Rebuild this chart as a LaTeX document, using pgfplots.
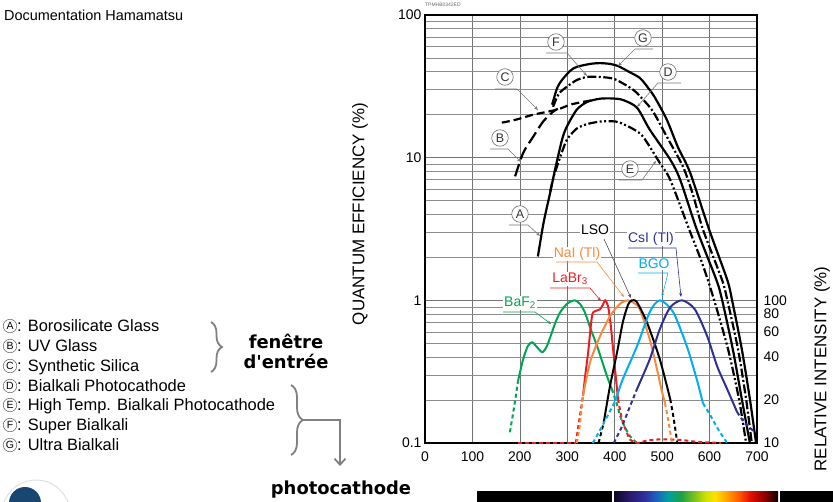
\documentclass[border=0pt]{standalone}
\usepackage{fontspec}
\setmainfont{Liberation Sans}
\newfontfamily\dejavu{DejaVu Sans}
\usepackage{pgfplots}
\pgfplotsset{compat=1.18}
\usetikzlibrary{arrows.meta,decorations.pathreplacing}

\newcommand\fs[1]{\fontsize{#1}{#1}\selectfont}

\definecolor{baf}{RGB}{0,166,81}
\definecolor{labr}{RGB}{237,28,36}
\definecolor{nai}{RGB}{246,139,62}
\definecolor{bgo}{RGB}{0,174,239}
\definecolor{csi}{RGB}{46,49,146}
\definecolor{lead}{RGB}{120,120,120}
\definecolor{brk}{RGB}{128,128,128}
\definecolor{logo}{RGB}{24,70,112}
\definecolor{sa}{RGB}{14,8,34}
\definecolor{sb}{RGB}{42,26,112}
\definecolor{sc}{RGB}{48,48,160}
\definecolor{sd}{RGB}{30,96,190}
\definecolor{se}{RGB}{0,160,160}
\definecolor{sf}{RGB}{30,160,70}
\definecolor{sg}{RGB}{130,195,30}
\definecolor{sh}{RGB}{210,225,0}
\definecolor{si}{RGB}{255,225,0}
\definecolor{sj}{RGB}{255,160,0}
\definecolor{sk}{RGB}{255,80,0}
\definecolor{sl}{RGB}{225,16,0}
\definecolor{sm}{RGB}{160,0,0}
\definecolor{sn}{RGB}{16,0,0}

\pgfplotsset{
  qe/.style={black, line width=2.2bp, smooth, tension=0.45, no marks},
  sc/.style={line width=2bp, smooth, tension=0.45, no marks},
  scd/.style={sc, dash pattern=on 4bp off 3bp},
}

\begin{document}
\begin{tikzpicture}
\path[use as bounding box] (0bp,0bp) rectangle (833bp,-502bp);

\begin{axis}[
  at={(425bp,-443bp)}, anchor=south west,
  scale only axis, width=332bp, height=428bp,
  xmin=0, xmax=700, ymin=0.1, ymax=100, ymode=log,
  xtick={0,100,...,700},
  ytick={0.1,1,10,100}, yticklabels={0.1,1,10,100},
  xticklabel style={font=\fs{14}, yshift=-5bp},
  yticklabel style={font=\fs{14}},
  /pgf/number format/assume math mode=true,
  major tick length=0pt, minor tick length=0pt,
  grid=both,
  major grid style={black!55, line width=0.7bp},
  minor grid style={black!45, line width=0.7bp},
  axis line style={line width=1.8bp},
]
% B UV glass
\addplot[qe, dash pattern=on 13bp off 5bp] coordinates {(190,7.4)(207,10.8)(228,14.0)(249,17.9)(270,21.0)(280,22.0)};
% C synthetic silica
\addplot[qe, dash pattern=on 8bp off 4bp] coordinates {(162,17.6)(190,18.4)(228,20.0)(278,21.7)(306,23.5)(333,24.6)(355,25.3)};
% A / D bialkali
\addplot[qe] coordinates {(238,2.03)(250,3.5)(264,5.7)(274,8.2)(289,13.4)(299,16.5)(320,21.7)(342,24.6)(369,25.9)(395,26.0)(417,25.4)(447,22.4)(474,15.7)(517,9.7)(538,7.0)(573,3.14)(614,1.40)(626,1.02)(649,0.454)(668,0.203)(685,0.1)};
% E high temp bialkali
\addplot[qe, dash pattern=on 9bp off 2.5bp on 2bp off 2.5bp on 2bp off 2.5bp] coordinates {(264,5.8)(272,7.5)(289,11.0)(300,13.5)(320,16.0)(342,17.2)(369,17.9)(395,18.0)(411,17.6)(440,15.8)(460,14.0)(495,9.2)(517,7.0)(557,3.14)(585,1.8)(609,1.02)(639,0.454)(662,0.203)(677,0.1)};
% F super bialkali
\addplot[qe, dash pattern=on 9bp off 2.5bp on 2bp off 2.5bp] coordinates {(270,22.7)(282,28.0)(299,31.4)(320,35.0)(342,36.8)(369,36.8)(400,35.5)(439,29.9)(460,25.5)(481,21.0)(510,14.0)(544,8.65)(565,5.5)(586,3.14)(626,1.40)(637,1.02)(660,0.454)(677,0.203)(689,0.1)};
% G ultra bialkali
\addplot[qe] coordinates {(268,23.5)(279,31.0)(289,35.1)(306,40.6)(320,43.3)(348,45.4)(369,46.0)(390,45.4)(407,43.9)(430,40.0)(453,36.2)(470,31.0)(485,26.3)(510,18.4)(533,11.9)(559,7.85)(599,3.14)(637,1.40)(647,1.02)(668,0.454)(685,0.203)(698,0.1)};

% BaF2
\addplot[scd, baf] coordinates {(179,0.119)(188,0.18)(196,0.271)};
\addplot[sc, baf] coordinates {(196,0.271)(207,0.387)(217,0.48)(226,0.508)(236,0.47)(247,0.433)(256,0.47)(264,0.551)(275,0.70)(285,0.824)(300,0.95)(316,1.0)(327,0.94)(337,0.824)(350,0.62)(363,0.477)(375,0.36)(386,0.28)(394,0.239)};
\addplot[scd, baf] coordinates {(394,0.239)(405,0.185)(415,0.143)(432,0.112)(447,0.1)};
% LaBr3
\addplot[scd, labr, sharp plot] coordinates {(196,0.1)(318,0.1)};
\addplot[scd, labr] coordinates {(318,0.1)(326,0.15)(333,0.213)};
\addplot[sc, labr] coordinates {(333,0.213)(338,0.30)(344,0.433)(352,0.773)(358,0.838)(369,0.865)(375,0.93)(380,1.0)(386,0.908)(391,0.70)(396,0.477)(401,0.32)(407,0.203)};
\addplot[scd, labr] coordinates {(407,0.203)(412,0.165)(417,0.14)(425,0.12)(432,0.106)(447,0.1)(468,0.104)(495,0.106)(540,0.105)(573,0.102)(625,0.1)};
% NaI(Tl)
\addplot[scd, nai] coordinates {(320,0.1)(326,0.13)(333,0.213)};
\addplot[sc, nai] coordinates {(333,0.213)(348,0.368)(369,0.56)(390,0.773)(405,0.90)(415,0.968)(428,1.0)(440,0.96)(453,0.865)(474,0.53)(489,0.33)(497,0.25)(506,0.19)};
\addplot[scd, nai] coordinates {(506,0.19)(512,0.15)(517,0.12)(521,0.1)};
% LSO
\addplot[scd, black] coordinates {(366,0.1)(372,0.12)(377,0.14)};
\addplot[sc, black] coordinates {(377,0.14)(390,0.25)(405,0.433)(417,0.70)(428,0.93)(436,1.0)(447,0.968)(468,0.70)(495,0.387)(517,0.203)};
\addplot[scd, black] coordinates {(517,0.203)(522,0.165)(527,0.13)(532,0.1)};
% BGO
\addplot[scd, bgo] coordinates {(354,0.1)(370,0.125)(385,0.155)(401,0.197)};
\addplot[sc, bgo] coordinates {(401,0.197)(417,0.28)(447,0.477)(474,0.83)(495,1.0)(523,0.83)(552,0.477)(573,0.28)(586,0.19)};
\addplot[scd, bgo] coordinates {(586,0.19)(600,0.16)(618,0.125)(637,0.1)};
% CsI(Tl)
\addplot[scd, csi] coordinates {(398,0.1)(415,0.13)(432,0.18)(447,0.239)};
\addplot[sc, csi] coordinates {(447,0.239)(474,0.387)(495,0.627)(517,0.894)(542,1.0)(569,0.865)(595,0.56)(616,0.345)(637,0.239)(658,0.165)};
\addplot[scd, csi] coordinates {(658,0.165)(675,0.137)(696,0.119)};
\end{axis}

% right scale: relative intensity
\begin{axis}[
  at={(425bp,-443bp)}, anchor=south west,
  scale only axis, width=332bp, height=428bp,
  xmin=0, xmax=700, ymode=log, ymin=10, ymax=10000,
  axis x line=none, axis y line*=right,
  y axis line style={draw=none},
  ytick={10,20,40,60,80,100}, yticklabels={10,20,40,60,80,100},
  minor ytick={},
  yticklabel style={font=\fs{14}, xshift=3bp},
  major tick length=0pt, minor tick length=0pt,
]
\addplot[draw=none] coordinates {(0,10)(700,10000)};
\end{axis}

\begin{scope}[x=1bp,y=-1bp]
% axis titles
\node[rotate=90, font=\fs{17}] at (360,214) {QUANTUM EFFICIENCY (\%)};
\node[rotate=90, font=\fs{17}] at (822,369) {RELATIVE INTENSITY (\%)};
\node[anchor=west, font=\fs{5}, text=black!60, inner sep=0] at (425,5) {TPMHB0342ED};
\node[anchor=west, font=\fs{14.5}, inner sep=0] at (4,15) {Documentation Hamamatsu};

% photocathode / window labels
\tikzset{cl/.style={circle, draw=black!55, fill=white, line width=0.6bp, inner sep=0pt, minimum size=16.5bp, font=\fs{12.5}, text=black!80},
         ld/.style={lead, line width=0.6bp, -{Stealth[length=4bp,width=3bp]}}}
\draw[ld] (546,53)--(567,53)--(587,76);
\node[cl] at (556,42) {F};
\draw[ld] (653,49)--(635,49)--(618,66);
\node[cl] at (643,38) {G};
\draw[ld] (681,83)--(658,83)--(637,107);
\node[cl] at (668,72) {D};
\draw[ld] (495,89)--(517,89)--(538,110);
\node[cl] at (505,77) {C};
\draw[ld] (490,149)--(508,149)--(521,162);
\node[cl] at (500,138) {B};
\draw[ld] (619,180)--(642,180)--(656,161);
\node[cl] at (630,169) {E};
\draw[ld] (509,225)--(528,225)--(540,236);
\node[cl] at (520,214) {A};

% scintillator labels
\tikzset{sl/.style={fill=white, inner sep=1bp, font=\fs{14}}}
\node[sl] at (595,230) {LSO};
\draw[black!70, line width=0.6bp, -{Stealth[length=4bp,width=3bp]}] (604,239)--(631,298);
\node[sl, text=nai] at (577,254) {NaI (Tl)};
\draw[nai, line width=0.6bp, -{Stealth[length=4bp,width=3bp]}] (556,262)--(597,262)--(624,297);
\node[sl, text=labr] at (570,279) {LaBr\textsubscript{3}};
\draw[labr, line width=0.6bp, -{Stealth[length=4bp,width=3bp]}] (550,288)--(590,288)--(601,301);
\node[sl, text=baf] at (520,303) {BaF\textsubscript{2}};
\draw[baf, line width=0.6bp, -{Stealth[length=4bp,width=3bp]}] (503,312)--(535,312)--(551,324);
\node[sl, text=csi] at (651,239) {CsI (Tl)};
\draw[csi, line width=0.6bp, -{Stealth[length=4bp,width=3bp]}] (628,248)--(676,248)--(681,297);
\node[sl, text=bgo] at (654,264) {BGO};
\draw[bgo, line width=0.6bp, -{Stealth[length=4bp,width=3bp]}] (638,273)--(668,273)--(662,297);

% left legend
\tikzset{lc/.style={circle, draw=black!60, line width=0.5bp, inner sep=0pt, minimum size=13.5bp, font=\fs{10.5}},
         lt/.style={anchor=base west, inner sep=0pt, font=\fs{16.5}}}
\node[lc] at (10,326) {A}; \node[lt] at (17,331) {: Borosilicate Glass};
\node[lc] at (10,346) {B}; \node[lt] at (17,351) {: UV Glass};
\node[lc] at (10,366) {C}; \node[lt] at (17,371) {: Synthetic Silica};
\node[lc] at (10,386) {D}; \node[lt] at (17,391) {: Bialkali Photocathode};
\node[lc] at (10,405) {E}; \node[lt] at (17,410) {: High Temp. Bialkali Photocathode};
\node[lc] at (10,425) {F}; \node[lt] at (17,430) {: Super Bialkali};
\node[lc] at (10,445) {G}; \node[lt] at (17,450) {: Ultra Bialkali};

\draw[brk, line width=1.8bp, decorate, decoration={brace, amplitude=11bp}] (211,322)--(211,372);
\node[anchor=base, font=\dejavu\bfseries\fs{18}] at (286,348) {fenêtre};
\node[anchor=base, font=\dejavu\bfseries\fs{18}] at (286,368) {d\textquotesingle entrée};

\draw[brk, line width=1.8bp, decorate, decoration={brace, amplitude=12bp}] (291,385)--(291,455);
\draw[brk, line width=1.8bp, -{Straight Barb[length=6bp,width=11bp]}] (303,420)--(340,420)--(340,466);
\node[anchor=base, font=\dejavu\bfseries\fs{18}] at (341,494) {photocathode};

% spectrum bar
\fill[black] (477,491) rectangle (612,502);
\fill[black] (780,491) rectangle (833,502);
\shade[left color=sa, right color=sb] (614,491) rectangle (630,502);
\shade[left color=sb, right color=sc] (630,491) rectangle (645,502);
\shade[left color=sc, right color=sd] (645,491) rectangle (656,502);
\shade[left color=sd, right color=se] (656,491) rectangle (668,502);
\shade[left color=se, right color=sf] (668,491) rectangle (681,502);
\shade[left color=sf, right color=sg] (681,491) rectangle (695,502);
\shade[left color=sg, right color=sh] (695,491) rectangle (706,502);
\shade[left color=sh, right color=si] (706,491) rectangle (715,502);
\shade[left color=si, right color=sj] (715,491) rectangle (727,502);
\shade[left color=sj, right color=sk] (727,491) rectangle (740,502);
\shade[left color=sk, right color=sl] (740,491) rectangle (750,502);
\shade[left color=sl, right color=sm] (750,491) rectangle (762,502);
\shade[left color=sm, right color=sn] (762,491) rectangle (778,502);

% logo corner
\draw[black!12, line width=1bp] (36,514) circle (34);
\fill[logo] (25,503) circle (16);
\end{scope}
\end{tikzpicture}
\end{document}
